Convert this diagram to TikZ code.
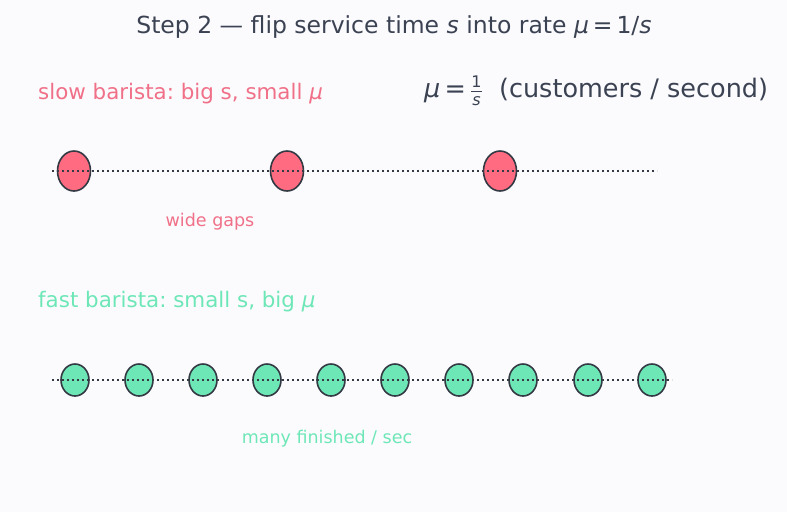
\documentclass[tikz,border=0pt]{standalone}
\usepackage{amsmath}
\usepackage{fontspec}
\setmainfont{DejaVu Sans}
\usepackage{xcolor}
\usetikzlibrary{positioning,shapes.geometric}
\frenchspacing
\definecolor{mubg}{HTML}{FBFBFE}
\definecolor{muink}{HTML}{3B4252}
\definecolor{muline}{HTML}{333A44}
\definecolor{muslow}{HTML}{FF6B81}
\definecolor{muslowtext}{HTML}{F07088}
\definecolor{mufast}{HTML}{6EE7B7}
\definecolor{mufasttext}{HTML}{6EE7B7}
\tikzset{
  mutitle/.style={font=\fontsize{23.5}{27}\selectfont,text=muink,inner sep=0pt},
  mulabel/.style={font=\fontsize{21.4}{26}\selectfont,anchor=west,inner sep=0pt},
  munote/.style={font=\fontsize{17.5}{21}\selectfont,inner sep=0pt},
  muslowdot/.style={ellipse,draw=muline,fill=muslow,line width=1.6pt,
                    minimum width=33pt,minimum height=40pt,inner sep=0pt},
  mufastdot/.style={ellipse,draw=muline,fill=mufast,line width=1.6pt,
                    minimum width=28pt,minimum height=32pt,inner sep=0pt},
  mutrack/.style={muline,line width=1.6pt,dash pattern=on 1.6pt off 3.4pt}
}

\begin{document}
\begin{tikzpicture}[x=1pt,y=-1pt]
  \fill[mubg] (0,0) rectangle (787,512);
  \useasboundingbox (0,0) rectangle (787,512);

  \node[mutitle] (title) at (394,27)
    {Step 2 --- flip service time \textit{s} into rate \textit{μ}\,=\,1/\textit{s}};

  % slow barista
  \node[mulabel,text=muslowtext] (slowlabel) at (38,94)
    {slow barista: big s, small \textit{μ}};
  \node[mulabel,text=muink,font=\fontsize{25.5}{30}\selectfont] (formula) at (424,91)
    {\textit{μ}\,=\,$\frac{\text{\fontsize{16}{18}\selectfont 1}}{\text{\fontsize{16}{18}\selectfont\itshape s}}$\ \ (customers / second)};
  \foreach \i/\x in {1/74,2/287,3/500}
    \node[muslowdot] (slow\i) at (\x,171) {};
  \coordinate (slowstart) at (52,171);
  \coordinate (slowend) at (657,171);
  \draw[mutrack] (slowstart) -- (slowend);
  \node[munote,text=muslowtext] (gaps) at (210,222) {wide gaps};

  % fast barista
  \node[mulabel,text=mufasttext] (fastlabel) at (38,302)
    {fast barista: small s, big \textit{μ}};
  \foreach \i/\x in {1/75,2/139,3/203,4/267,5/331,6/395,7/459,8/523,9/588,10/652}
    \node[mufastdot] (fast\i) at (\x,380) {};
  \coordinate (faststart) at (52,380);
  \coordinate (fastend) at (672,380);
  \draw[mutrack] (faststart) -- (fastend);
  \node[munote,text=mufasttext] (many) at (327,439) {many finished / sec};
\end{tikzpicture}
\end{document}
